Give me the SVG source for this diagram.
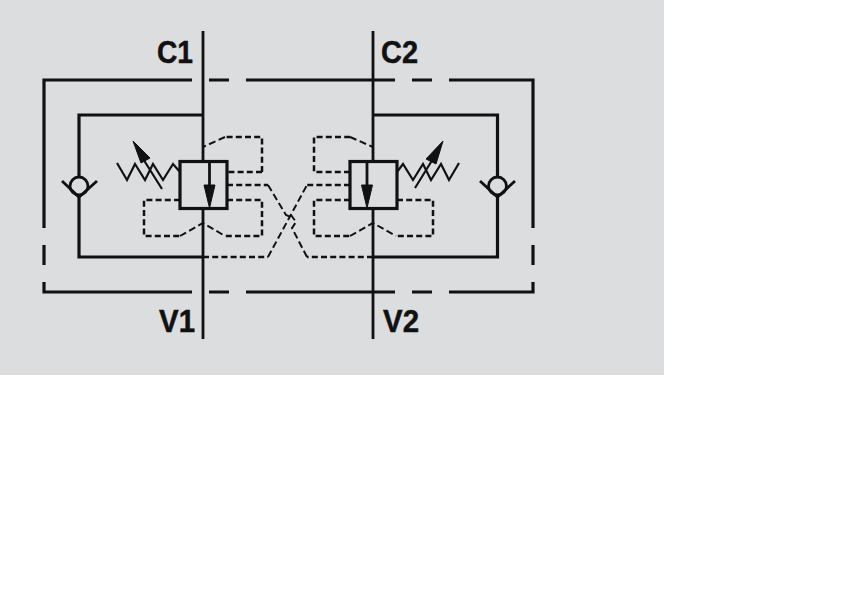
<svg xmlns="http://www.w3.org/2000/svg" width="859" height="600" viewBox="0 0 859 600">
<style>
.l{fill:none;stroke:#111;stroke-width:3.2}
.t{fill:none;stroke:#111;stroke-width:2.8}
.s{fill:none;stroke:#111;stroke-width:2.2}
.d{fill:none;stroke:#111;stroke-width:2.5;stroke-dasharray:6 3.2}
.x{fill:none;stroke:#111;stroke-width:2;stroke-dasharray:7 3.5}
.h{fill:#111;stroke:#111;stroke-width:1;stroke-linejoin:round}
text{font-family:"Liberation Sans",Arial,sans-serif;font-weight:bold;font-size:31px;fill:#111;stroke:#111;stroke-width:.5;lengthAdjust:spacingAndGlyphs}
</style>
<rect width="859" height="600" fill="#fff"/>
<rect width="664" height="375" fill="#dcddde"/>
<g id="connectors">
<path class="t" d="M203 31V161M203 209V339M373 31V161M373 209V339"/>
<path class="l" d="M44 228V80H192M209 80H229M246 80H395M412 80H432M449 80H533V228M44 245V265M533 245V265M44 282V292H192M209 292H229M246 292H395M412 292H432M449 292H533V282"/>
<path class="l" d="M203 115H79V177M79 197V257H203M373 115H497.500V177M497.500 197V257H373"/>
<path class="d" d="M262 172H227M262 172V137H225"/>
<path class="x" d="M225 137L203 147M350 137L373 147"/>
<path class="d" d="M350 172H314V137H350"/>
<path class="d" d="M180 200H144V236H180M227 200H262V236H225M350 200H314V236H350M397 200H433V236H396"/>
<path class="x" d="M180 236L203 223L225 236M350 236L373 223L396 236"/>
<path class="d" d="M227 185H268M350 185H307M203 257H268M373 257H307"/>
<path class="x" d="M268 185L286 215L291 217M268 257L307 185M307 257L292 228L296 222L291 215"/>
</g>
<g id="valve-c1">
<rect class="l" x="180" y="161.500" width="47" height="47"/>
<path class="t" d="M209.500 161V186"/><path class="h" d="M204 185H215L209.500 208Z"/>
<path class="s" d="M117 163L127 180L135 164L145 180L153 164L163 180L173 164L180 172M162 189L140 154"/>
<path class="h" d="M133 141L150 158L141 163Z"/>
</g>
<g id="valve-c2">
<rect class="l" x="350" y="161.500" width="47" height="47"/>
<path class="t" d="M367 161V186"/><path class="h" d="M361.500 185H372.500L367 208Z"/>
<path class="s" d="M459 163L449 180L441 164L431 180L423 164L413 180L403 164L397 172M415 188L436 154"/>
<path class="h" d="M443 141L426 159L436 164Z"/>
</g>
<g id="check-left">
<circle class="t" cx="79" cy="186" r="9"/>
<path class="t" d="M62 181L79 197L97 181"/>
</g>
<g id="check-right">
<circle class="t" cx="497.500" cy="186" r="9"/>
<path class="t" d="M480 181L497.500 197L515 181"/>
</g>
<g id="labels">
<text x="157" y="63" textLength="36" lengthAdjust="spacingAndGlyphs">C1</text>
<text x="381" y="63" textLength="37" lengthAdjust="spacingAndGlyphs">C2</text>
<text x="159" y="332" textLength="36" lengthAdjust="spacingAndGlyphs">V1</text>
<text x="383" y="332" textLength="36" lengthAdjust="spacingAndGlyphs">V2</text>
</g>
</svg>
